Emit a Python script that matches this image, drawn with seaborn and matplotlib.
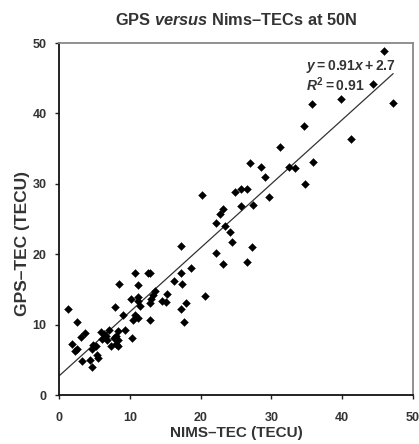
import numpy as np
import pandas as pd
import matplotlib
matplotlib.use("Agg")
import matplotlib.pyplot as plt
import seaborn as sns

# ---- data ----
nims_tec = [1.3, 2.6, 1.9, 2.3, 2.5, 3.1, 3.7, 3.3, 4.4, 4.6,
            4.8, 4.6, 5.2, 5.3, 5.5, 5.9, 6.3, 6.1, 6.6, 6.8,
            7.0, 7.3, 7.7, 8.1, 8.4, 8.4, 8.1, 8.4, 7.9, 9.1,
            9.3, 10.3, 8.5, 10.7, 12.5, 12.9, 11.1, 10.2, 11.1, 11.2,
            11.5, 10.7, 11.1, 10.4, 12.8, 13.0, 13.3, 13.6, 12.9, 14.6,
            15.1, 15.3, 16.3, 17.2, 17.4, 18.6, 17.9, 17.2, 17.6, 17.2,
            20.6, 20.2, 22.2, 22.8, 23.2, 23.4, 24.2, 24.5, 22.2, 23.1,
            24.8, 25.7, 26.6, 25.7, 27.4, 27.2, 26.6, 27.0, 28.5, 29.1,
            29.6, 31.2, 32.5, 33.3, 34.8, 35.9, 34.6, 35.8, 39.8, 41.2,
            44.4, 45.9, 47.2]
gps_tec = [12.2, 10.3, 7.3, 6.2, 6.6, 8.3, 8.8, 4.8, 5.0, 4.0,
           7.1, 6.6, 6.9, 5.7, 5.2, 9.0, 8.6, 8.0, 8.4, 7.8,
           9.3, 6.9, 8.1, 7.3, 7.0, 9.1, 8.4, 7.8, 12.5, 11.4,
           9.3, 8.1, 15.8, 17.3, 17.3, 17.3, 15.6, 13.7, 13.9, 13.3,
           12.7, 11.4, 11.0, 10.7, 10.7, 13.7, 14.2, 14.8, 13.0, 13.4,
           13.2, 14.4, 16.2, 17.3, 15.8, 18.0, 13.0, 12.2, 10.3, 21.1,
           14.0, 28.4, 24.5, 25.7, 26.4, 24.0, 23.2, 21.7, 20.1, 18.6,
           28.8, 29.3, 29.3, 26.9, 27.0, 21.0, 18.9, 33.0, 32.4, 30.9,
           28.1, 35.2, 32.4, 32.2, 30.0, 33.1, 38.2, 41.3, 42.0, 36.3,
           44.2, 48.9, 41.5]
fit_slope = 0.91
fit_intercept = 2.7
fit_r2 = 0.91
x_ticks = [0, 10, 20, 30, 40, 50]
y_ticks = [0, 10, 20, 30, 40, 50]

df = pd.DataFrame({"NIMS": nims_tec, "GPS": gps_tec})

sns.set_style("white")
plt.rcParams["font.family"] = ["Liberation Sans", "DejaVu Sans"]
plt.rcParams["mathtext.fontset"] = "custom"
plt.rcParams["mathtext.rm"] = "Liberation Sans:bold"
plt.rcParams["mathtext.it"] = "Liberation Sans:italic:bold"
plt.rcParams["mathtext.bf"] = "Liberation Sans:bold"

txt = "#333333"
fig = plt.figure(figsize=(4.19, 4.44), dpi=100)
ax = fig.add_axes([59 / 419, 1 - 395 / 444, (413 - 59) / 419, (395 - 43) / 444])

sns.scatterplot(data=df, x="NIMS", y="GPS", marker="D", s=16, color="black",
                edgecolor="black", linewidth=0.3, ax=ax, zorder=3)

xl = np.array([0, max(nims_tec)])
ax.plot(xl, fit_slope * xl + fit_intercept, color="#333333", lw=0.9, zorder=2)

ax.set_xlim(0, 50)
ax.set_ylim(0, 50)
ax.set_xticks(x_ticks)
ax.set_yticks(y_ticks)
ax.tick_params(direction="out", length=3, width=1, color="#222222",
               labelsize=9, labelcolor=txt, left=True, bottom=True)
ax.tick_params(axis="x", pad=9)
ax.tick_params(axis="y", pad=6)
for lab in ax.get_xticklabels() + ax.get_yticklabels():
    lab.set_fontweight("bold")

for s in ["left", "bottom"]:
    ax.spines[s].set_color("#111111")
    ax.spines[s].set_linewidth(1.3)
for s in ["top", "right"]:
    ax.spines[s].set_color("#888888")
    ax.spines[s].set_linewidth(1.3)

ax.set_xlabel("NIMS–TEC (TECU)", fontsize=11, fontweight="bold", color=txt, labelpad=2)
ax.set_ylabel("GPS–TEC (TECU)", fontsize=12.5, fontweight="bold", color=txt)
ax.yaxis.set_label_coords(-0.082, 0.43)
ax.set_title(r"GPS $versus$ Nims–TECs at 50N", fontsize=11.8, fontweight="bold",
             color=txt, pad=13)

ax.text(0.697, 0.933, r"$y = %.2fx + %.1f$" % (fit_slope, fit_intercept),
        transform=ax.transAxes, fontsize=10, color=txt, va="center", ha="left")
ax.text(0.697, 0.882, r"$R^2 = %.2f$" % fit_r2,
        transform=ax.transAxes, fontsize=10, color=txt, va="center", ha="left")

fig.savefig("out.png", dpi=100)
